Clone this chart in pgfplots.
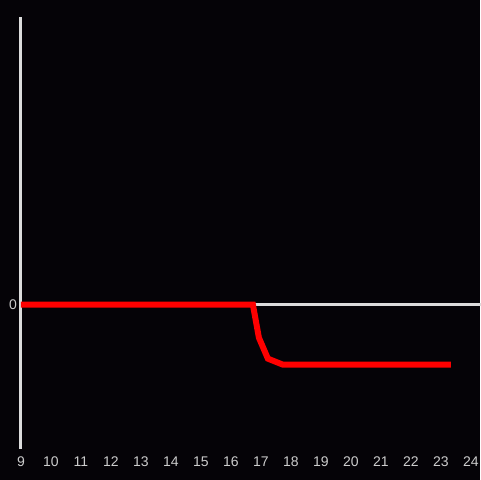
\documentclass[border=0pt]{standalone}
\usepackage{pgfplots}
\pgfplotsset{compat=1.18}
\usepackage{fontspec}
\setmainfont{Liberation Sans}
\definecolor{bg}{HTML}{050307}
\definecolor{axisgray}{HTML}{DCDCDC}
\definecolor{ticktext}{HTML}{CCCCCC}
\definecolor{linered}{HTML}{FF0000}
\begin{document}
\begin{tikzpicture}
\fill[bg] (0,0) rectangle (360pt,360pt);
\useasboundingbox (0,0) rectangle (360pt,360pt);
\begin{axis}[
    at={(15.75pt,23.5pt)}, anchor=south west,
    scale only axis,
    width=345pt, height=324pt,
    xmin=9, xmax=24.3333,
    ymin=-1.44, ymax=2.88,
    axis x line*=bottom,
    axis y line*=left,
    x axis line style={draw=none},
    y axis line style={draw=axisgray, line width=2.25pt, -},
    xtick={9,10,...,24},
    ytick={0},
    major tick length=0pt,
    tick label style={font=\fontsize{10.5pt}{12pt}\selectfont, text=ticktext},
    /pgf/number format/assume math mode=true,
    xticklabel style={yshift=-2.5pt},
    yticklabel style={xshift=0.5pt},
    clip=false,
]
\addplot[axisgray, line width=2.25pt] coordinates {(9,0) (24.3333,0)};
\addplot[linered, line width=4.5pt] coordinates {
    (9,0) (16.73,0) (16.93,-0.33) (17.23,-0.54) (17.73,-0.60) (23.33,-0.60)
};
\end{axis}
\end{tikzpicture}
\end{document}
